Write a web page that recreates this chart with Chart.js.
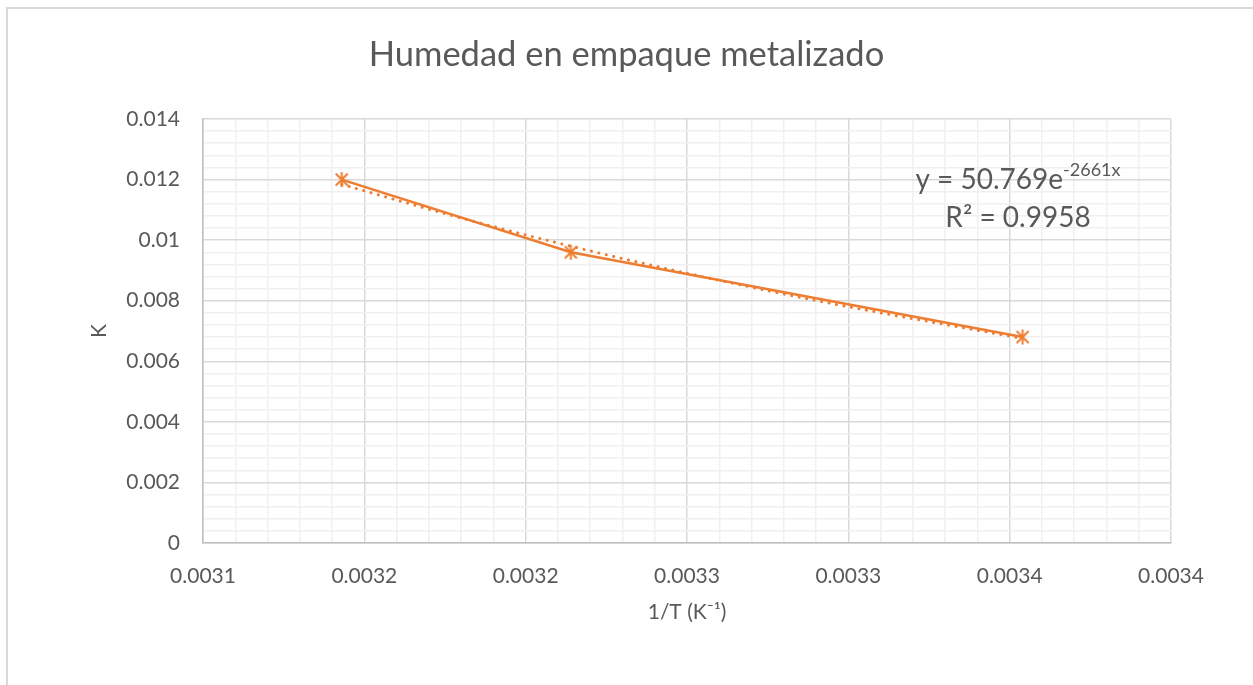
<!DOCTYPE html>
<html>
<head>
<meta charset="utf-8">
<script src="https://cdn.jsdelivr.net/npm/chart.js@4.4.0/dist/chart.umd.min.js"></script>
<style>
  html, body { margin: 0; padding: 0; background: #fff; overflow: hidden; }
  #wrap { position: absolute; left: 0; top: 0; width: 1253px; height: 685px; }
  #frame { position: absolute; left: 6px; top: 7px; width: 1300px; height: 700px; border-left: 2px solid #d9d9d9; border-top: 2px solid #d9d9d9; }
  canvas { position: absolute; left: 0; top: 0; }
</style>
</head>
<body>
<div id="wrap">
  <div id="frame"></div>
  <canvas id="myChart" width="1253" height="685"></canvas>
</div>
<script>
// measured points (1/T, K)
const invT = [0.003143, 0.003214, 0.003354];
const kValues = [0.012, 0.0096, 0.0068];

// exponential trendline as drawn (dotted)
const trendX = [0.003143, 0.00318, 0.003214, 0.00325, 0.00329, 0.003354];
const trendY = [0.01184, 0.01073, 0.009802, 0.008907, 0.008007, 0.006753];

const xTickLabels = ['0.0031', '0.0032', '0.0032', '0.0033', '0.0033', '0.0034', '0.0034'];
const yTickLabels = ['0', '0.002', '0.004', '0.006', '0.008', '0.01', '0.012', '0.014'];

const orange = '#ED7D31';
const textColor = '#595959';
const fontFamily = 'Lato, "Open Sans", sans-serif';

function starMarker() {
    const c = document.createElement('canvas');
    c.width = 17; c.height = 17;
    const g = c.getContext('2d');
    g.strokeStyle = orange;
    g.lineWidth = 2;
    g.beginPath();
    g.moveTo(2.5, 2.5); g.lineTo(14.5, 14.5);
    g.moveTo(14.5, 2.5); g.lineTo(2.5, 14.5);
    g.moveTo(8.5, 1); g.lineTo(8.5, 16);
    g.stroke();
    return c;
}

const marker = starMarker();

// chart title, centred on the whole canvas like the original
const chartTitle = {
    id: 'chartTitle',
    afterDraw(chart) {
        const ctx = chart.ctx;
        ctx.save();
        ctx.fillStyle = textColor;
        ctx.font = '34.5px ' + fontFamily;
        ctx.textAlign = 'center';
        ctx.textBaseline = 'middle';
        ctx.fillText('Humedad en empaque metalizado', chart.width / 2, 55);
        ctx.restore();
    }
};

const eqLabel = {
    id: 'eqLabel',
    afterDatasetsDraw(chart) {
        const ctx = chart.ctx;
        const a = chart.chartArea;
        const cx = a.right - 153;
        const main = 'y = 50.769e';
        const sup = '-2661x';
        ctx.save();
        ctx.fillStyle = textColor;
        ctx.textBaseline = 'alphabetic';
        ctx.font = '28px ' + fontFamily;
        const w1 = ctx.measureText(main).width;
        ctx.font = '18px ' + fontFamily;
        const w2 = ctx.measureText(sup).width;
        const x0 = cx - (w1 + w2) / 2;
        ctx.textAlign = 'left';
        ctx.font = '28px ' + fontFamily;
        ctx.fillText(main, x0, a.top + 70);
        ctx.font = '18px ' + fontFamily;
        ctx.fillText(sup, x0 + w1, a.top + 57);
        ctx.font = '28px ' + fontFamily;
        ctx.textAlign = 'center';
        ctx.fillText('R² = 0.9958', cx, a.top + 108);
        ctx.restore();
    }
};

function isMajor(v, step) {
    return Math.round(v / step) % 5 === 0;
}

const ctx = document.getElementById('myChart').getContext('2d');
new Chart(ctx, {
    type: 'scatter',
    data: {
        datasets: [{
            label: 'K',
            data: invT.map((x, i) => ({ x: x, y: kValues[i] })),
            showLine: true,
            borderColor: orange,
            backgroundColor: orange,
            borderWidth: 2.5,
            pointStyle: marker,
            pointRadius: 8,
            pointHoverRadius: 8,
            order: 1
        }, {
            label: 'trend',
            data: trendX.map((x, i) => ({ x: x, y: trendY[i] })),
            showLine: true,
            borderColor: orange,
            borderWidth: 3,
            borderDash: [0.1, 7.5],
            borderCapStyle: 'round',
            cubicInterpolationMode: 'monotone',
            pointRadius: 0,
            order: 2
        }]
    },
    options: {
        responsive: false,
        animation: false,
        layout: { padding: { left: 0, right: 82, top: 119, bottom: 0 } },
        plugins: {
            legend: { display: false },
            tooltip: { enabled: false },
            title: { display: false }
        },
        scales: {
            x: {
                type: 'linear',
                min: 0.0031,
                max: 0.0034,
                afterFit: scale => { scale.height = 142; },
                border: { color: '#bfbfbf', width: 1.5 },
                grid: {
                    color: c => isMajor(c.tick.value - 0.0031, 0.00001) ? '#d9d9d9' : '#f0f0f0',
                    lineWidth: 1.5,
                    drawTicks: false
                },
                ticks: {
                    stepSize: 0.00001,
                    autoSkip: false,
                    maxRotation: 0,
                    padding: 21,
                    color: textColor,
                    font: { family: fontFamily, size: 21 },
                    callback: function (value) {
                        const i = Math.round((value - 0.0031) / 0.00001);
                        return i % 5 === 0 ? xTickLabels[i / 5] : '';
                    }
                },
                title: {
                    display: true,
                    text: '1/T (K⁻¹)',
                    color: textColor,
                    font: { family: fontFamily, size: 21 },
                    padding: { top: 0, bottom: 60 }
                }
            },
            y: {
                min: 0,
                max: 0.014,
                afterFit: scale => { scale.width = 203; },
                border: { color: '#bfbfbf', width: 1.5 },
                grid: {
                    color: c => isMajor(c.tick.value, 0.0004) ? '#d9d9d9' : '#f0f0f0',
                    lineWidth: 1.5,
                    drawTicks: false
                },
                ticks: {
                    stepSize: 0.0004,
                    autoSkip: false,
                    padding: 23,
                    color: textColor,
                    font: { family: fontFamily, size: 21 },
                    callback: function (value) {
                        const i = Math.round(value / 0.0004);
                        return i % 5 === 0 ? yTickLabels[i / 5] : '';
                    }
                },
                title: {
                    display: true,
                    text: 'K',
                    color: textColor,
                    font: { family: fontFamily, size: 21 },
                    padding: { top: 87, bottom: 0 }
                }
            }
        }
    },
    plugins: [eqLabel, chartTitle]
});
</script>
</body>
</html>
